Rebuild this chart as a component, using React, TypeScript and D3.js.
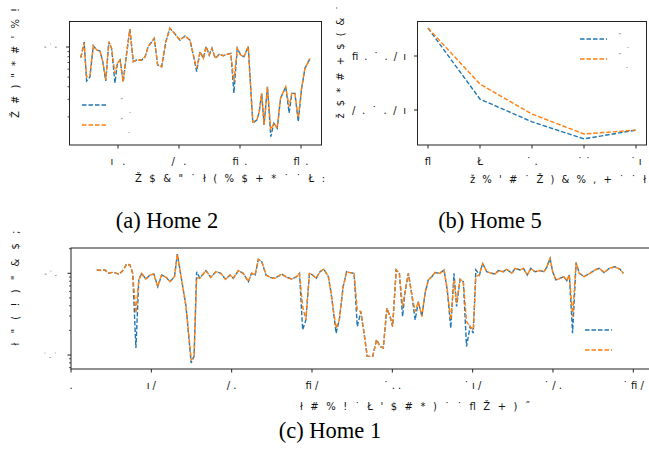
import React from "react";
import * as d3 from "d3";

// ---------- (a) Home 2 ----------
const homeTwoX = [7.8, 8.9, 9.7, 10.8, 11.9, 13.0, 14.1, 15.0, 16.0, 17.0, 17.9, 19.0, 19.8, 20.7, 21.7, 22.9, 23.9, 25.0, 26.1, 27.8, 28.9, 29.9, 31.9, 33.0, 34.3, 35.7, 37.0, 38.5, 40.3, 42.0, 43.6, 44.7, 45.8, 46.9, 48.0, 48.9, 49.9, 50.8, 51.9, 53.2, 54.5, 55.8, 57.0, 58.0, 59.1, 60.2, 61.3, 62.7, 64.2, 65.5, 66.3, 67.1, 67.9, 69.0, 70.1, 71.1, 72.2, 73.3, 75.0, 76.1, 77.0, 78.0, 79.1, 80.2, 81.3, 83.0];
const homeTwoBlue = [0.782, 1.12, 0.457, 0.501, 1.03, 0.933, 0.912, 0.713, 0.457, 1.13, 0.97, 0.437, 0.687, 0.741, 0.447, 0.898, 1.51, 0.713, 0.741, 0.741, 0.80, 1.01, 1.22, 0.661, 0.636, 1.13, 1.54, 1.37, 1.17, 1.29, 1.17, 0.832, 0.566, 0.898, 0.771, 1.01, 0.832, 0.97, 0.771, 0.845, 0.818, 0.845, 0.865, 0.347, 0.97, 0.832, 0.80, 1.01, 0.173, 0.186, 0.225, 0.344, 0.166, 0.401, 0.127, 0.173, 0.154, 0.307, 0.401, 0.219, 0.344, 0.344, 0.179, 0.386, 0.612, 0.771];
const homeTwoOrange = [0.782, 1.09, 0.501, 0.525, 1.03, 0.933, 0.912, 0.713, 0.468, 1.13, 0.97, 0.546, 0.687, 0.741, 0.450, 0.898, 1.51, 0.713, 0.741, 0.741, 0.80, 1.01, 1.22, 0.661, 0.636, 1.13, 1.54, 1.37, 1.17, 1.29, 1.17, 0.832, 0.612, 0.898, 0.771, 1.01, 0.832, 0.97, 0.771, 0.845, 0.818, 0.845, 0.865, 0.450, 0.97, 0.832, 0.80, 1.01, 0.178, 0.186, 0.225, 0.344, 0.166, 0.401, 0.148, 0.173, 0.154, 0.307, 0.401, 0.253, 0.344, 0.344, 0.195, 0.386, 0.612, 0.771];
const homeTwoXTicks = [20, 40, 60, 80];
const homeTwoXTickLabels = ["ı .", "/ .", "fi .", "fl ."];
const homeTwoYMajor = [1];
const homeTwoYMajorLabels = ["- ˙ -"];
const homeTwoYMinor = [0.2, 0.3, 0.4, 0.5, 0.6, 0.7, 0.8, 0.9];

// ---------- (b) Home 5 ----------
const homeFiveCats = ["fl", "Ł", "˙ .", "˙ ˙", "˙ ı"];
const homeFiveBlue = [0.074, 0.0434, 0.0366, 0.0322, 0.0344];
const homeFiveOrange = [0.074, 0.0486, 0.0388, 0.0334, 0.0344];
const homeFiveYTicks = [0.06, 0.04];
const homeFiveYTickLabels = ["fi . ˙ . / ı", "/ . ˙ . / ı"];

// ---------- (c) Home 1 ----------
const homeOneX = [8.0, 9.6, 10.6, 11.6, 13.2, 15.0, 16.3, 17.3, 18.4, 19.2, 20.2, 21.1, 22.0, 23.3, 24.6, 25.8, 27.0, 28.2, 29.6, 30.8, 32.2, 33.1, 34.1, 35.8, 37.4, 38.3, 39.1, 40.1, 42.0, 43.5, 45.1, 46.6, 48.1, 49.5, 50.5, 52.1, 53.6, 55.2, 56.2, 57.3, 58.3, 59.4, 60.7, 62.2, 63.5, 65.6, 67.1, 68.7, 70.2, 71.1, 72.1, 73.1, 74.2, 75.2, 76.3, 77.5, 78.7, 80.1, 81.1, 82.5, 83.5, 84.7, 85.8, 86.8, 88.1, 89.1, 90.2, 91.2, 92.2, 93.9, 95.1, 96.2, 97.2, 98.3, 99.3, 100.1, 101.2, 102.2, 103.2, 103.9, 105.0, 106.0, 107.1, 108.1, 109.2, 110.2, 111.2, 112.3, 113.3, 114.8, 116.1, 117.1, 118.2, 119.2, 120.0, 121.1, 122.1, 123.1, 124.2, 125.2, 126.0, 127.1, 128.1, 129.4, 130.9, 132.0, 133.0, 134.5, 135.6, 137.2, 138.2, 139.7, 140.8, 142.0, 143.1, 144.4, 146.0, 147.2, 148.1, 149.1, 149.9, 150.9, 152.2, 153.4, 154.3, 155.1, 156.1, 157.2, 158.2, 159.7, 161.5, 163.1, 164.4, 165.9, 167.5, 169.3, 170.9, 171.9];
const homeOneBlue = [1.10, 1.08, 1.10, 1.00, 1.03, 0.97, 1.10, 1.30, 1.26, 1.00, 0.122, 0.83, 1.00, 0.845, 0.953, 0.98, 0.687, 0.953, 0.894, 0.79, 0.909, 1.72, 1.00, 0.392, 0.0798, 0.0961, 1.046, 0.869, 1.08, 0.894, 1.046, 1.00, 0.845, 0.953, 0.869, 1.08, 1.00, 0.79, 1.00, 0.953, 1.48, 1.38, 0.953, 0.884, 0.869, 0.98, 0.894, 0.85, 0.909, 1.00, 0.204, 0.269, 1.00, 0.953, 0.869, 1.046, 1.12, 0.909, 0.519, 0.185, 0.269, 0.687, 1.046, 1.02, 1.00, 0.223, 0.340, 0.185, 0.0961, 0.0961, 0.154, 0.127, 0.122, 0.374, 0.296, 0.223, 1.10, 1.00, 0.296, 0.570, 1.00, 0.570, 0.269, 0.451, 0.296, 0.570, 0.83, 0.909, 1.02, 1.00, 1.10, 0.625, 0.213, 1.00, 0.392, 0.845, 0.79, 0.127, 0.223, 0.185, 1.10, 0.953, 1.32, 1.046, 1.00, 0.98, 1.08, 1.046, 1.12, 1.00, 1.15, 1.10, 1.15, 0.953, 1.15, 1.046, 1.08, 1.046, 1.20, 1.52, 1.046, 0.83, 0.869, 0.909, 0.812, 0.953, 0.185, 1.35, 1.00, 0.909, 1.00, 1.10, 1.15, 1.02, 1.15, 1.20, 1.12, 1.00];
const homeOneOrange = [1.10, 1.08, 1.10, 1.00, 1.03, 0.97, 1.10, 1.30, 1.26, 1.00, 0.325, 0.83, 1.00, 0.845, 0.953, 0.98, 0.687, 0.953, 0.894, 0.79, 0.909, 1.72, 1.00, 0.392, 0.0877, 0.0961, 0.877, 0.869, 1.08, 0.894, 1.046, 1.00, 0.845, 0.953, 0.869, 1.08, 1.00, 0.79, 1.00, 0.953, 1.48, 1.38, 0.953, 0.884, 0.869, 0.98, 0.894, 0.85, 0.909, 1.00, 0.392, 0.269, 1.00, 0.953, 0.869, 1.046, 1.12, 0.909, 0.519, 0.213, 0.269, 0.687, 1.046, 1.02, 1.00, 0.357, 0.340, 0.185, 0.0961, 0.0961, 0.154, 0.127, 0.122, 0.374, 0.296, 0.223, 1.10, 1.00, 0.392, 0.570, 1.00, 0.570, 0.340, 0.451, 0.296, 0.570, 0.83, 0.909, 1.02, 1.00, 1.10, 0.625, 0.269, 0.83, 0.431, 0.845, 0.79, 0.257, 0.223, 0.204, 0.909, 0.953, 1.32, 1.046, 1.00, 0.98, 1.08, 1.046, 1.12, 1.00, 1.15, 1.10, 1.15, 0.953, 1.15, 1.046, 1.08, 1.046, 1.20, 1.52, 1.046, 0.83, 0.869, 0.909, 0.812, 0.953, 0.296, 1.35, 1.00, 0.909, 1.00, 1.10, 1.15, 1.02, 1.15, 1.20, 1.12, 1.00];
const homeOneXTicks = [0, 25, 50, 75, 100, 125, 150, 175];
const homeOneXTickLabels = [".", "ı /", "/ .", "fi /", "˙ . .", "˙ ı /", "˙ / .", "˙ fi /"];
const homeOneYMajor = [1, 0.1];
const homeOneYMajorLabels = ["- ˙ .", "˙ . ˙"];
const homeOneYMinor = [0.07, 0.08, 0.09, 0.2, 0.3, 0.4, 0.5, 0.6, 0.7, 0.8, 0.9, 2];

// ---------- labels ----------
const axisLabelA_X = "Ž $ & \" ˙ ł ( % $ + * ˙ ˙ Ł :";
const axisLabelA_Y = "Ž # ) \" * # ' % !";
const axisLabelB_X = "ž % ' # ˙ Ž ) & % , + ˙ ˙ ł";
const axisLabelB_Y = "ž $ * # + $ ( & ˙";
const axisLabelC_X = "ł # % ! ˙ Ł ' $ # * ) ˙ ˙ fl Ž + ) ˝";
const axisLabelC_Y = "ł \" ( ! ) \" & $ ;";
const captions = ["(a) Home 2", "(b) Home 5", "(c) Home 1"];

const BLUE = "#1f77b4";
const ORANGE = "#ff7f0e";
const GLYPH_FONT = "DejaVu Sans";
const DASH = "4.5,2";

function Frame({ l, r, t, b }: { l: number; r: number; t: number; b: number }) {
  return <rect x={l} y={t} width={r - l} height={b - t} fill="none" stroke="#222" strokeWidth={1} />;
}

export default function App() {
  // ---- panel A scales
  const ax = d3.scaleLinear().domain([20, 80]).range([118, 301]);
  const ay = d3.scaleLog().domain([0.1, 1]).range([147, 47]);
  const aFrame = { l: 69.5, r: 321.5, t: 21.5, b: 145 };
  const aLine = d3.line<number>().x((_, i) => ax(homeTwoX[i])).y((d) => ay(d));

  // ---- panel B scales
  const bx = d3.scaleLinear().domain([0, 4]).range([428, 636]);
  const by = d3.scaleLog().domain([0.04, 0.06]).range([110, 56]);
  const bFrame = { l: 417.5, r: 646.5, t: 21.5, b: 145 };
  const bLine = d3.line<number>().x((_, i) => bx(i)).y((d) => by(d));

  // ---- panel C scales
  const cx = d3.scaleLinear().domain([0, 175]).range([71, 633.3]);
  const cy = d3.scaleLog().domain([0.1, 1]).range([355, 273.3]);
  const cFrame = { l: 71, r: 665, t: 248, b: 369 };
  const cLine = d3.line<number>().x((_, i) => cx(homeOneX[i])).y((d) => cy(d));

  const glyph = { fontFamily: GLYPH_FONT, fontSize: 10, fill: "#111" } as const;

  return (
    <svg width={649} height={453} style={{ position: "absolute", left: 0, top: 0, background: "#fff" }}>
      <rect width={649} height={453} fill="#fff" />

      {/* ================= Panel A ================= */}
      <g>
        {homeTwoXTicks.map((t, i) => (
          <g key={t}>
            <line x1={ax(t)} x2={ax(t)} y1={aFrame.b} y2={aFrame.b + 3.5} stroke="#222" strokeWidth={1} />
            <text x={ax(t)} y={165} textAnchor="middle" {...glyph} textLength={15} lengthAdjust="spacing">{homeTwoXTickLabels[i]}</text>
          </g>
        ))}
        {homeTwoYMajor.map((t, i) => (
          <g key={t}>
            <line x1={aFrame.l} x2={aFrame.l - 3.5} y1={ay(t)} y2={ay(t)} stroke="#222" strokeWidth={1} />
            <text x={57} y={ay(t) + 2} textAnchor="end" {...glyph} fontSize={7}>{homeTwoYMajorLabels[i]}</text>
          </g>
        ))}
        {homeTwoYMinor.map((t) => (
          <line key={t} x1={aFrame.l} x2={aFrame.l - 2} y1={ay(t)} y2={ay(t)} stroke="#222" strokeWidth={0.8} />
        ))}
        <path d={aLine(homeTwoBlue) || ""} fill="none" stroke={BLUE} strokeWidth={1.4} strokeDasharray={DASH} />
        <path d={aLine(homeTwoOrange) || ""} fill="none" stroke={ORANGE} strokeWidth={1.4} strokeDasharray={DASH} />
        {/* legend */}
        <line x1={82} x2={108} y1={105} y2={105} stroke={BLUE} strokeWidth={1.4} strokeDasharray={DASH} />
        <line x1={82} x2={108} y1={125} y2={125} stroke={ORANGE} strokeWidth={1.4} strokeDasharray={DASH} />
        <text x={120} y={103} {...glyph} fontSize={6}>˝</text>
        <text x={129} y={113} {...glyph} fontSize={6}>.</text>
        <text x={120} y={123} {...glyph} fontSize={6}>˝</text>
        <text x={128} y={133} {...glyph} fontSize={6}>.</text>
        <Frame {...aFrame} />
        <text x={230} y={182} textAnchor="middle" {...glyph} textLength={190} lengthAdjust="spacing">{axisLabelA_X}</text>
        <text transform="translate(19,63) rotate(-90)" textAnchor="middle" {...glyph} textLength={110} lengthAdjust="spacing">{axisLabelA_Y}</text>
      </g>

      {/* ================= Panel B ================= */}
      <g>
        {homeFiveCats.map((c, i) => (
          <g key={c}>
            <line x1={bx(i)} x2={bx(i)} y1={bFrame.b} y2={bFrame.b + 3.5} stroke="#222" strokeWidth={1} />
            <text x={bx(i)} y={165} textAnchor="middle" {...glyph}>{c}</text>
          </g>
        ))}
        {homeFiveYTicks.map((t, i) => (
          <g key={t}>
            <line x1={bFrame.l} x2={bFrame.l - 3.5} y1={by(t)} y2={by(t)} stroke="#222" strokeWidth={1} />
            <text x={406} y={by(t) + 3.5} textAnchor="end" {...glyph} textLength={54} lengthAdjust="spacing">{homeFiveYTickLabels[i]}</text>
          </g>
        ))}
        <path d={bLine(homeFiveBlue) || ""} fill="none" stroke={BLUE} strokeWidth={1.4} strokeDasharray={DASH} />
        <path d={bLine(homeFiveOrange) || ""} fill="none" stroke={ORANGE} strokeWidth={1.4} strokeDasharray={DASH} />
        <line x1={580} x2={607} y1={39} y2={39} stroke={BLUE} strokeWidth={1.4} strokeDasharray={DASH} />
        <line x1={580} x2={607} y1={59} y2={59} stroke={ORANGE} strokeWidth={1.4} strokeDasharray={DASH} />
        <text x={618} y={38} {...glyph} fontSize={6}>˝</text>
        <text x={627} y={48} {...glyph} fontSize={6}>.</text>
        <text x={618} y={58} {...glyph} fontSize={6}>˝</text>
        <text x={626} y={68} {...glyph} fontSize={6}>.</text>
        <Frame {...bFrame} />
        <text x={558} y={183} textAnchor="middle" {...glyph} textLength={176} lengthAdjust="spacing">{axisLabelB_X}</text>
        <text transform="translate(344,62) rotate(-90)" textAnchor="middle" {...glyph} textLength={113} lengthAdjust="spacing">{axisLabelB_Y}</text>
      </g>

      {/* ================= Panel C ================= */}
      <g>
        {homeOneXTicks.map((t, i) => (
          <g key={t}>
            <line x1={cx(t)} x2={cx(t)} y1={cFrame.b} y2={cFrame.b + 3.5} stroke="#222" strokeWidth={1} />
            <text x={cx(t)} y={389} textAnchor="middle" {...glyph}>{homeOneXTickLabels[i]}</text>
          </g>
        ))}
        {homeOneYMajor.map((t, i) => (
          <g key={t}>
            <line x1={cFrame.l} x2={cFrame.l - 3.5} y1={cy(t)} y2={cy(t)} stroke="#222" strokeWidth={1} />
            <text x={57} y={cy(t) + 3} textAnchor="end" {...glyph} fontSize={7}>{homeOneYMajorLabels[i]}</text>
          </g>
        ))}
        {homeOneYMinor.map((t) => (
          <line key={t} x1={cFrame.l} x2={cFrame.l - 2} y1={cy(t)} y2={cy(t)} stroke="#222" strokeWidth={0.8} />
        ))}
        <path d={cLine(homeOneBlue) || ""} fill="none" stroke={BLUE} strokeWidth={1.4} strokeDasharray={DASH} />
        <path d={cLine(homeOneOrange) || ""} fill="none" stroke={ORANGE} strokeWidth={1.4} strokeDasharray={DASH} />
        <line x1={585} x2={612} y1={330} y2={330} stroke={BLUE} strokeWidth={1.4} strokeDasharray={DASH} />
        <line x1={585} x2={612} y1={350} y2={350} stroke={ORANGE} strokeWidth={1.4} strokeDasharray={DASH} />
        <Frame {...cFrame} />
        <text x={415} y={410} textAnchor="middle" {...glyph} textLength={230} lengthAdjust="spacing">{axisLabelC_X}</text>
        <text transform="translate(19,288) rotate(-90)" textAnchor="middle" {...glyph} textLength={115} lengthAdjust="spacing">{axisLabelC_Y}</text>
      </g>

      {/* ================= Captions ================= */}
      <text x={167} y={228} textAnchor="middle" fontFamily="Liberation Serif" fontSize={22.5} fill="#000">{captions[0]}</text>
      <text x={490} y={228} textAnchor="middle" fontFamily="Liberation Serif" fontSize={22.5} fill="#000">{captions[1]}</text>
      <text x={330} y={438} textAnchor="middle" fontFamily="Liberation Serif" fontSize={22.5} fill="#000">{captions[2]}</text>
    </svg>
  );
}
